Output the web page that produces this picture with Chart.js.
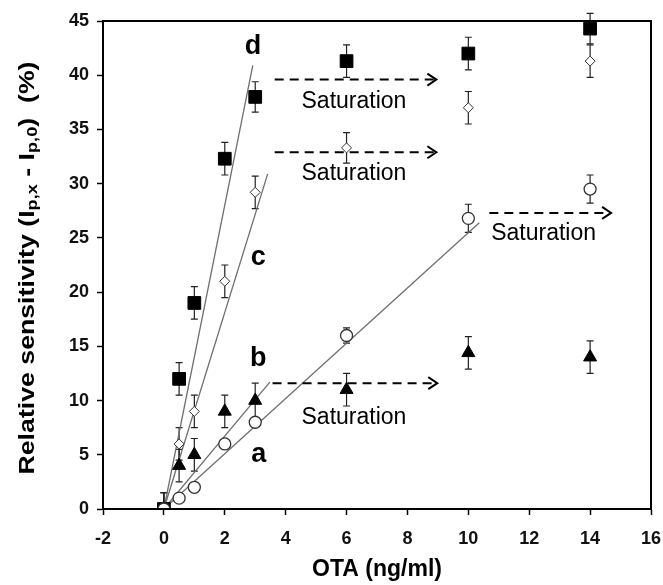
<!DOCTYPE html>
<html>
<head>
<meta charset="utf-8">
<script src="https://cdn.jsdelivr.net/npm/chart.js@4.4.0/dist/chart.umd.min.js"></script>
<style>
  html, body { margin: 0; padding: 0; background: #fff; }
  #wrap { width: 663px; height: 585px; }
</style>
</head>
<body>
<div id="wrap"><canvas id="chart" width="663" height="585"></canvas></div>
<script>
// OTA concentrations (ng/ml)
const conc = [0, 0.5, 1, 2, 3, 6, 10, 14];

// relative sensitivity (%) and error bars for each electrode
const dVals = [0, 12, 19, 32.3, 38, 41.3, 42, 44.3];
const dErr  = [1.5, 1.5, 1.5, 1.5, 1.4, 1.5, 1.5, 1.4];
const cVals = [0, 6, 9, 21, 29.2, 33.3, 37, 41.3];
const cErr  = [1.5, 1.5, 1.5, 1.5, 1.5, 1.4, 1.5, 1.5];
const bVals = [0, 4, 5, 9, 10, 11, 14.4, 14];
const bErr  = [1.5, 1.5, 1.5, 1.5, 1.6, 1.5, 1.5, 1.5];
const aVals = [0, 1, 2, 6, 8, 16, 26.8, 29.5];
const aErr  = [0.4, 0.3, 0.3, 0.4, 0.4, 0.7, 1.3, 1.3];

// linear fits over the low range
const dFitX = [0, 2.92],  dFitY = [0, 40.9];
const cFitX = [0, 3.41],  cFitY = [0, 30.9];
const bFitX = [0, 3.48],  bFitY = [0, 11.7];
const aFitX = [0, 10.36], aFitY = [0, 26.4];

// curve labels
const curveNames = ['d', 'c', 'b', 'a'];
const curveNameX = [2.93, 3.1, 3.1, 3.12];
const curveNameY = [42.6, 23.2, 13.9, 5.0];

// saturation arrows
const satY  = [39.6, 32.9, 11.6, 27.3];
const satX0 = [3.64, 3.64, 3.57, 10.69];
const satX1 = [8.95, 8.95, 8.98, 14.69];
const satTextX = [4.52, 4.52, 4.52, 10.75];
const satTextY = [37.6, 30.9, 8.4, 25.4];

const FONT = '"Liberation Sans", Arial, sans-serif';

const pts = (xs, ys) => xs.map((x, i) => ({ x: x, y: ys[i] }));

const errorBars = {
  id: 'errorBars',
  beforeDatasetsDraw(chart) {
    const ctx = chart.ctx, xs = chart.scales.x, ys = chart.scales.y;
    ctx.save();
    ctx.strokeStyle = '#222';
    ctx.lineWidth = 1.2;
    [[dVals, dErr], [cVals, cErr], [bVals, bErr], [aVals, aErr]].forEach(([vals, errs]) => {
      vals.forEach((v, i) => {
        const px = xs.getPixelForValue(conc[i]);
        const top = ys.getPixelForValue(v + errs[i]);
        const bot = ys.getPixelForValue(Math.max(0, v - errs[i]));
        ctx.beginPath();
        ctx.moveTo(px, top); ctx.lineTo(px, bot);
        ctx.moveTo(px - 3.5, top); ctx.lineTo(px + 3.5, top);
        if (v - errs[i] > 0) { ctx.moveTo(px - 3.5, bot); ctx.lineTo(px + 3.5, bot); }
        ctx.stroke();
      });
    });
    ctx.restore();
  }
};

const annotations = {
  id: 'annotations',
  afterDraw(chart) {
    const ctx = chart.ctx, xs = chart.scales.x, ys = chart.scales.y, area = chart.chartArea;
    ctx.save();

    // frame around plot
    ctx.strokeStyle = '#000';
    ctx.lineWidth = 2;
    ctx.strokeRect(area.left, area.top, area.right - area.left, area.bottom - area.top);

    // saturation arrows
    ctx.lineWidth = 2;
    satY.forEach((y, i) => {
      const py = ys.getPixelForValue(y);
      const x0 = xs.getPixelForValue(satX0[i]);
      const x1 = xs.getPixelForValue(satX1[i]);
      ctx.setLineDash([9, 6]);
      ctx.beginPath();
      ctx.moveTo(x0, py); ctx.lineTo(x1 - 2, py);
      ctx.stroke();
      ctx.setLineDash([]);
      ctx.beginPath();
      ctx.moveTo(x1 - 9, py - 6); ctx.lineTo(x1, py); ctx.lineTo(x1 - 9, py + 6);
      ctx.stroke();

      ctx.fillStyle = '#000';
      ctx.font = '23px ' + FONT;
      ctx.textAlign = 'left';
      ctx.textBaseline = 'middle';
      ctx.fillText('Saturation', xs.getPixelForValue(satTextX[i]), ys.getPixelForValue(satTextY[i]));
    });

    // curve letters
    ctx.font = 'bold 27px ' + FONT;
    ctx.textAlign = 'center';
    ctx.textBaseline = 'middle';
    curveNames.forEach((n, i) => {
      ctx.fillText(n, xs.getPixelForValue(curveNameX[i]), ys.getPixelForValue(curveNameY[i]));
    });

    // y axis title with subscripts, stretched along its length
    const parts = [
      ['Relative sensitivity (I', false], ['p,x', true], [' - I', false],
      ['p,0', true], [')  (%)', false]
    ];
    const mainFont = 'bold 22px ' + FONT, subFont = 'bold 15px ' + FONT;
    let total = 0;
    parts.forEach(([t, sub]) => { ctx.font = sub ? subFont : mainFont; total += ctx.measureText(t).width; });
    ctx.translate(26, 268);
    ctx.rotate(-Math.PI / 2);
    ctx.scale(413 / total, 1);
    ctx.textAlign = 'left';
    ctx.textBaseline = 'alphabetic';
    let cx = -total / 2;
    parts.forEach(([t, sub]) => {
      ctx.font = sub ? subFont : mainFont;
      ctx.fillText(t, cx, sub ? 11 : 8);
      cx += ctx.measureText(t).width;
    });
    ctx.restore();
  }
};

new Chart(document.getElementById('chart'), {
  type: 'scatter',
  data: {
    datasets: [
      { label: 'd', data: pts(conc, dVals), order: 4, pointStyle: 'rect', pointRadius: 9,
        backgroundColor: '#000', borderColor: '#000', borderWidth: 1 },
      { label: 'c', data: pts(conc, cVals), order: 3, pointStyle: 'rectRot', pointRadius: 5,
        backgroundColor: '#fff', borderColor: '#333', borderWidth: 1 },
      { label: 'b', data: pts(conc, bVals), order: 2, pointStyle: 'triangle', pointRadius: 7.5,
        backgroundColor: '#000', borderColor: '#000', borderWidth: 1 },
      { label: 'a', data: pts(conc, aVals), order: 1, pointStyle: 'circle', pointRadius: 6,
        backgroundColor: '#fff', borderColor: '#333', borderWidth: 1.3 },
      { type: 'line', data: pts(dFitX, dFitY), order: 10, borderColor: '#6e6e6e', borderWidth: 1.3, pointRadius: 0 },
      { type: 'line', data: pts(cFitX, cFitY), order: 10, borderColor: '#6e6e6e', borderWidth: 1.3, pointRadius: 0 },
      { type: 'line', data: pts(bFitX, bFitY), order: 10, borderColor: '#6e6e6e', borderWidth: 1.3, pointRadius: 0 },
      { type: 'line', data: pts(aFitX, aFitY), order: 10, borderColor: '#6e6e6e', borderWidth: 1.3, pointRadius: 0 }
    ]
  },
  options: {
    responsive: false,
    animation: false,
    devicePixelRatio: 1,
    layout: { padding: { top: 21, right: 12, left: 0, bottom: 0 } },
    plugins: { legend: { display: false }, tooltip: { enabled: false } },
    scales: {
      x: {
        type: 'linear', min: -2, max: 16,
        afterFit: s => { s.height = 76; s.paddingLeft = 0; s.paddingRight = 0; },
        ticks: { stepSize: 2, padding: 13, color: '#111', font: { family: FONT, size: 18, weight: 'bold' } },
        grid: { display: true, drawOnChartArea: false, drawTicks: true, tickLength: 6, tickWidth: 1.5, tickColor: '#000' },
        border: { display: true, color: '#000', width: 2 },
        title: { display: true, text: 'OTA (ng/ml)', color: '#000', padding: { top: 0, bottom: 2 },
                 font: { family: FONT, size: 23, weight: 'bold' } }
      },
      y: {
        type: 'linear', min: 0, max: 45,
        afterFit: s => { s.width = 103; s.paddingTop = 0; s.paddingBottom = 0; },
        ticks: { stepSize: 5, padding: 8, color: '#111', font: { family: FONT, size: 18, weight: 'bold' } },
        grid: { display: true, drawOnChartArea: false, drawTicks: true, tickLength: 6, tickWidth: 1.5, tickColor: '#000' },
        border: { display: true, color: '#000', width: 2 }
      }
    }
  },
  plugins: [errorBars, annotations]
});
</script>
</body>
</html>
